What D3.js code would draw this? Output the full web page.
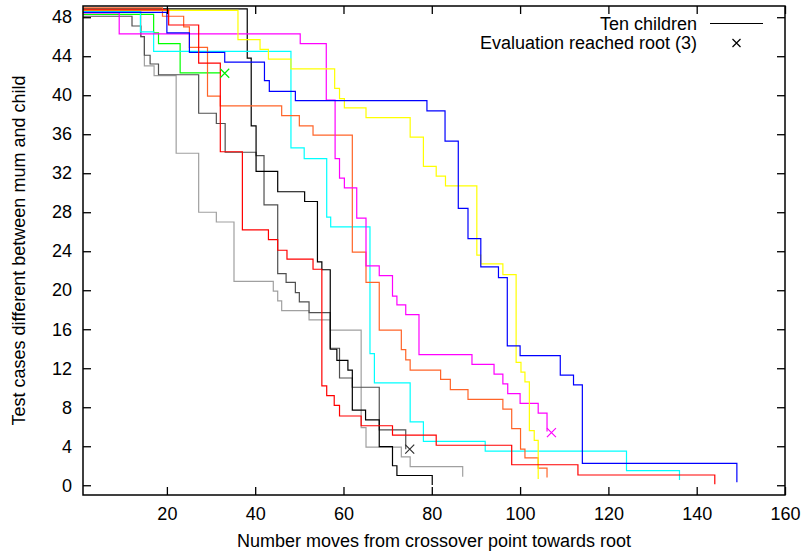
<!DOCTYPE html>
<html>
<head>
<meta charset="utf-8">
<script src="https://cdn.jsdelivr.net/npm/d3@7"></script>
<style>
  html, body { margin: 0; padding: 0; background: #fff; }
  svg text { font-family: "Liberation Sans", Arial, Helvetica, sans-serif; font-size: 18px; fill: #000; }
</style>
</head>
<body>
<svg id="chart" width="804" height="555"></svg>
<script>
// ---- data (x = moves from crossover point, y = test cases different) ----
const xTicks = [20, 40, 60, 80, 100, 120, 140, 160];
const yTicks = [0, 4, 8, 12, 16, 20, 24, 28, 32, 36, 40, 44, 48];

const redSteps = [[1,48.75],[20.4,47.2],[27.2,43.3],[32.1,34.2],[37.1,26.2],[43.0,25.2],[45.1,24.1],[47.2,23.2],[53.1,22.15],[55.1,10.2],[56.2,9.2],[57.9,8.2],[59.1,7.1],[64.0,6.1],[71.1,5.15],[81.0,4.1],[98.1,2.1],[113.1,1.05],[144.1,0.1]];
const orangeSteps = [[1,48.95],[19.0,48.1],[23.8,47.0],[25.1,44.9],[29.2,39.9],[32.1,38.9],[46.0,37.9],[50.0,36.85],[53.1,35.9],[62.0,23.9],[65.1,20.8],[68.1,15.9],[73.1,13.9],[74.1,12.85],[75.1,11.8],[82.0,10.85],[84.2,9.8],[88.2,8.8],[96.1,7.8],[98.1,5.8],[100.1,3.7],[101.1,2.8],[104.1,1.75],[106.1,0.8]];
const yellowSteps = [[1,48.7],[36.1,45.7],[41.1,44.7],[43.0,43.7],[48.1,42.7],[58.0,40.7],[59.1,39.65],[60.2,38.7],[65.1,37.7],[75.1,35.7],[78.1,32.7],[81.0,31.7],[83.1,30.7],[90.2,23.6],[91.1,22.7],[96.1,21.6],[99.1,12.6],[100.2,11.6],[101.1,10.6],[102.1,5.6],[103.2,4.6],[104.1,0.65]];
const blueSteps = [[1,48.5],[20.0,46.4],[25.1,44.4],[33.1,43.4],[42.1,41.5],[43.2,40.4],[49.1,39.45],[78.9,38.4],[83.0,35.3],[86.0,28.4],[88.2,25.3],[91.1,22.4],[95.1,21.3],[97.1,14.3],[100.0,13.3],[109.1,11.3],[112.1,10.3],[114.1,2.25],[149.1,0.3]];
const magentaSteps = [[1,48.45],[9.2,46.3],[50.2,45.3],[56.1,39.5],[58.1,33.5],[59.1,31.5],[60.2,30.5],[63.0,27.4],[65.1,22.5],[68.1,21.5],[71.1,19.4],[72.1,18.5],[74.1,17.5],[77.1,13.4],[89.1,12.4],[94.1,11.4],[96.1,10.4],[97.2,9.4],[100.0,8.4],[104.1,7.4],[106.1,5.5]];
const cyanSteps = [[1,48.6],[14.0,46.5],[17.0,44.5],[48.1,34.6],[51.1,33.5],[56.2,27.5],[57.1,26.5],[66.0,13.5],[67.0,10.5],[75.1,6.5],[78.1,4.5],[92.1,3.5],[124.1,1.5],[136.1,0.55]];
const greenSteps = [[1,48.3],[17.0,46.4],[18.1,45.3],[23.0,42.3],[32.1,42.3]];
const lightGraySteps = [[1,48.7],[14.1,46.0],[14.9,43.0],[17.1,42.0],[22.1,34.05],[27.2,28.0],[31.2,27.0],[35.2,20.9],[44.1,19.9],[45.1,18.9],[46.0,17.9],[52.2,16.95],[57.0,15.9],[64.0,5.9],[65.1,3.9],[73.1,2.9],[75.1,1.9],[87.0,0.88]];
const darkGraySteps = [[1,48.1],[12.1,47.1],[14.1,46.0],[14.9,44.1],[16.2,43.2],[18.1,42.1],[27.2,38.15],[31.2,37.1],[33.2,34.15],[40.2,33.8],[42.0,28.75],[45.1,21.7],[47.0,20.8],[49.1,19.75],[50.0,18.8],[52.2,17.7],[57.0,14.05],[59.1,11.0],[62.0,10.05],[68.1,5.67],[74.1,3.7]];
const blackSteps = [[1,48.85],[38.2,43.8],[39.1,36.85],[40.2,32.2],[45.1,30.1],[51.2,29.1],[54.1,22.9],[55.1,22.1],[57.0,13.95],[58.5,12.8],[61.0,11.8],[62.0,7.7],[65.0,6.7],[68.1,3.96],[71.1,2.0],[72.1,1.0],[80.1,0.03]];

const rootMarks = [[33.1,42.25,"#00ee00"],[75.0,3.7,"#303030"],[107.1,5.4,"#ff00ff"]];

const seriesList = [
  {data: lightGraySteps, color: "#a0a0a0"},
  {data: darkGraySteps, color: "#505050"},
  {data: blackSteps, color: "#000000"},
  {data: greenSteps, color: "#00ff00"},
  {data: cyanSteps, color: "#00ffff"},
  {data: orangeSteps, color: "#ff6428"},
  {data: magentaSteps, color: "#ff00ff"},
  {data: yellowSteps, color: "#ffff00"},
  {data: blueSteps, color: "#0000ff"},
  {data: redSteps, color: "#ff0000"}
];

// ---- layout ----
const L = 83, R = 785, T = 6, B = 495;
const svg = d3.select("#chart");
svg.append("rect").attr("width", 804).attr("height", 555).attr("fill", "#fff");

const x = d3.scaleLinear().domain([1, 160]).range([L, R]);
const y = d3.scaleLinear().domain([-1, 49.15]).range([B, T]);

// clip
svg.append("clipPath").attr("id", "clip").append("rect")
  .attr("x", L).attr("y", T).attr("width", R - L).attr("height", B - T);

const line = d3.line().x(d => x(d[0])).y(d => y(d[1])).curve(d3.curveStepAfter);

const plot = svg.append("g").attr("clip-path", "url(#clip)");
seriesList.forEach(s => {
  plot.append("path").datum(s.data)
    .attr("fill", "none").attr("stroke", s.color).attr("stroke-width", 1.2)
    .attr("d", line);
});

// root markers (×)
const xm = (g, cx, cy, c, r) => {
  g.append("path")
    .attr("d", `M${cx - r},${cy - r}L${cx + r},${cy + r}M${cx - r},${cy + r}L${cx + r},${cy - r}`)
    .attr("stroke", c).attr("stroke-width", 1.2).attr("fill", "none");
};
rootMarks.forEach(m => xm(svg, x(m[0]), y(m[1]), m[2], 4.5));

// axes
const tickLen = 8;
const axB = d3.axisBottom(x).tickValues(xTicks).tickSizeInner(-tickLen).tickSizeOuter(0).tickPadding(12.2).tickFormat(d3.format("d"));
const axT = d3.axisTop(x).tickValues(xTicks).tickSizeInner(-tickLen).tickSizeOuter(0).tickFormat("");
const axL = d3.axisLeft(y).tickValues(yTicks).tickSizeInner(-tickLen).tickSizeOuter(0).tickPadding(11).tickFormat(d3.format("d"));
const axR = d3.axisRight(y).tickValues(yTicks).tickSizeInner(-tickLen).tickSizeOuter(0).tickFormat("");

function styleAxis(g) {
  g.select(".domain").remove();
  g.selectAll(".tick line").attr("stroke", "#000").attr("stroke-width", 1.3);
  g.selectAll(".tick text").attr("font-size", 18).attr("font-family", "Liberation Sans, Arial, sans-serif").attr("fill", "#000");
}
svg.append("g").attr("transform", `translate(0,${B})`).call(axB).call(styleAxis);
svg.append("g").attr("transform", `translate(0,${T})`).call(axT).call(styleAxis);
svg.append("g").attr("transform", `translate(${L},0)`).call(axL).call(styleAxis);
svg.append("g").attr("transform", `translate(${R},0)`).call(axR).call(styleAxis);

// border
svg.append("rect").attr("x", L).attr("y", T).attr("width", R - L).attr("height", B - T)
  .attr("fill", "none").attr("stroke", "#000").attr("stroke-width", 1.5);

// titles
svg.append("text").attr("x", (L + R) / 2).attr("y", 547).attr("text-anchor", "middle")
  .text("Number moves from crossover point towards root");
svg.append("text").attr("transform", `translate(25,${(T + B) / 2}) rotate(-90)`).attr("text-anchor", "middle")
  .text("Test cases different between mum and child");

// legend
const leg = svg.append("g");
leg.append("text").attr("x", 697).attr("y", 29.5).attr("text-anchor", "end").text("Ten children");
leg.append("line").attr("x1", 710).attr("x2", 763).attr("y1", 23.5).attr("y2", 23.5)
  .attr("stroke", "#000").attr("stroke-width", 1.2);
leg.append("text").attr("x", 697).attr("y", 48.5).attr("text-anchor", "end").text("Evaluation reached root (3)");
xm(leg, 736.5, 43, "#000", 4);
</script>
</body>
</html>
